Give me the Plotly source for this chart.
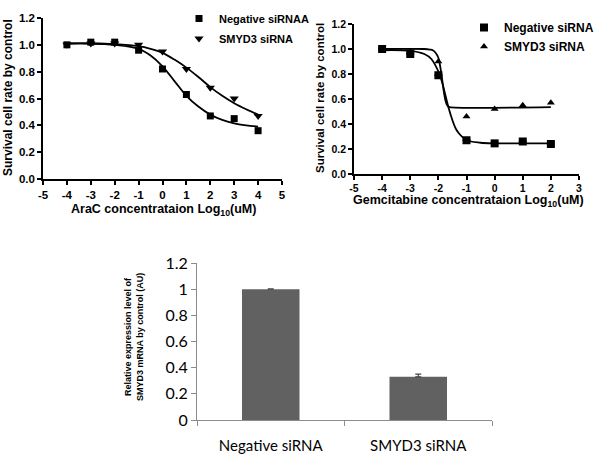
import plotly.graph_objects as go

# ---- Panel 1: AraC ----
ara_x = [-4, -3, -2, -1, 0, 1, 2, 3, 4]
ara_neg = [1.00, 1.02, 1.02, 0.96, 0.82, 0.63, 0.47, 0.45, 0.36]
ara_smyd3 = [1.00, 1.01, 1.01, 1.00, 0.95, 0.82, 0.68, 0.60, 0.47]
ara_fit_x = [-4, -3, -2, -1, -0.5, 0, 0.5, 1, 1.5, 2, 2.5, 3, 3.5, 4]
ara_fit_neg = [1.01, 1.01, 1.00, 0.97, 0.92, 0.84, 0.73, 0.62, 0.54, 0.48, 0.44, 0.415, 0.40, 0.39]
ara_fit_smyd3 = [1.01, 1.01, 1.005, 0.99, 0.97, 0.94, 0.89, 0.83, 0.76, 0.685, 0.62, 0.565, 0.52, 0.48]
ara_xticks = [-5, -4, -3, -2, -1, 0, 1, 2, 3, 4, 5]
ara_xticktext = ["-5", "-4", "-3", "-2", "-1", "0", "1", "2", "3", "4", "5"]

# ---- Panel 2: Gemcitabine ----
gem_x = [-4, -3, -2, -1, 0, 1, 2]
gem_neg = [1.00, 0.96, 0.79, 0.27, 0.245, 0.26, 0.24]
gem_neg_err = [0.0, 0.03, 0.0, 0.0, 0.0, 0.0, 0.0]
gem_smyd3 = [1.00, 0.98, 0.90, 0.46, 0.52, 0.55, 0.57]
gem_fit_neg_x = [-4, -3, -2.5, -2.25, -2, -1.875, -1.75, -1.625, -1.5, -1.375, -1.25, -1, -0.5, 0, 1, 2]
gem_fit_neg = [0.99, 0.985, 0.96, 0.92, 0.82, 0.74, 0.63, 0.52, 0.43, 0.36, 0.32, 0.27, 0.25, 0.245, 0.245, 0.245]
gem_fit_smyd3_x = [-4, -2.5, -2.3, -2.2, -2.1, -2.0, -1.95, -1.9, -1.85, -1.8, -1.75, -1.7, -1.65, -1.6, 2]
gem_fit_smyd3 = [1.0, 1.0, 0.995, 0.99, 0.97, 0.93, 0.88, 0.81, 0.73, 0.65, 0.59, 0.555, 0.54, 0.535, 0.535]
gem_xticks = [-5, -4, -3, -2, -1, 0, 1, 2, 3]
gem_xticktext = ["-5", "-4", "-3", "-2", "-1", "0", "1", "2", "3"]

# ---- Panel 3: bars ----
bar_cats = ["Negative siRNA", "SMYD3 siRNA"]
bar_vals = [1.00, 0.33]
bar_err = [0.003, 0.02]
bar_tickvals = [0, 0.2, 0.4, 0.6, 0.8, 1.0, 1.2]
bar_ticktext = ["0", "0.2", "0.4", "0.6", "0.8", "1", "1.2"]

BOLD = dict(family="Liberation Sans", color="black", weight="bold")

def PX(px):
    return px / 600
def PY(py):
    return 1 - py / 459

fig = go.Figure()

# Panel 1
fig.add_trace(go.Scatter(x=ara_fit_x, y=ara_fit_neg, mode="lines", line=dict(color="black", width=1.8, shape="spline"),
                         showlegend=False, xaxis="x", yaxis="y", hoverinfo="skip"))
fig.add_trace(go.Scatter(x=ara_fit_x, y=ara_fit_smyd3, mode="lines", line=dict(color="black", width=1.8, shape="spline"),
                         showlegend=False, xaxis="x", yaxis="y", hoverinfo="skip"))
fig.add_trace(go.Scatter(x=ara_x, y=ara_smyd3, mode="markers", name="SMYD3 siRNA", legendgroup="a2",
                         marker=dict(symbol="triangle-down", size=8, color="black"), xaxis="x", yaxis="y", legend="legend", legendrank=2))
fig.add_trace(go.Scatter(x=ara_x, y=ara_neg, mode="markers", name="Negative siRNA", legendgroup="a1",
                         marker=dict(symbol="square", size=7, color="black"), xaxis="x", yaxis="y", legend="legend", legendrank=1))

# Panel 2
fig.add_trace(go.Scatter(x=gem_fit_neg_x, y=gem_fit_neg, mode="lines", line=dict(color="black", width=1.8, shape="spline"),
                         showlegend=False, xaxis="x2", yaxis="y2", hoverinfo="skip"))
fig.add_trace(go.Scatter(x=gem_fit_smyd3_x, y=gem_fit_smyd3, mode="lines", line=dict(color="black", width=1.8, shape="spline"),
                         showlegend=False, xaxis="x2", yaxis="y2", hoverinfo="skip"))
fig.add_trace(go.Scatter(x=gem_x, y=gem_neg, mode="markers", name="Negative siRNA",
                         marker=dict(symbol="square", size=8, color="black"),
                         error_y=dict(type="data", array=gem_neg_err, arrayminus=[0]*len(gem_neg_err), color="black", thickness=1.5, width=4),
                         xaxis="x2", yaxis="y2", legend="legend2", legendrank=1))
fig.add_trace(go.Scatter(x=gem_x, y=gem_smyd3, mode="markers", name="SMYD3 siRNA",
                         marker=dict(symbol="triangle-up", size=7, color="black"), xaxis="x2", yaxis="y2", legend="legend2", legendrank=2))

# Panel 3
fig.add_trace(go.Bar(x=bar_cats, y=bar_vals, marker=dict(color="#616161", line=dict(width=0)),
                     error_y=dict(type="data", array=bar_err, arrayminus=[0, 0], color="#444444", thickness=1.2, width=3),
                     showlegend=False, xaxis="x3", yaxis="y3", width=0.39))

axis_common = dict(showgrid=False, zeroline=False, showline=True, linecolor="black", linewidth=1.6,
                   ticks="outside", ticklen=4, tickwidth=1.6, tickcolor="black", automargin=False)

fig.update_layout(
    template="none",
    width=600, height=459, margin=dict(l=0, r=0, t=0, b=0, autoexpand=False),
    paper_bgcolor="white", plot_bgcolor="white",
    xaxis=dict(domain=[PX(43), PX(282)], range=[-5, 5], tickmode="array", tickvals=ara_xticks, ticktext=ara_xticktext,
               anchor="y", tickfont=dict(size=11.5, **BOLD), **axis_common),
    yaxis=dict(domain=[PY(179), PY(18)], range=[0, 1.2], dtick=0.2, tickformat=".1f", anchor="x",
               tickfont=dict(size=11.5, **BOLD), **axis_common),
    xaxis2=dict(domain=[PX(354), PX(579)], range=[-5, 3], tickmode="array", tickvals=gem_xticks, ticktext=gem_xticktext,
                anchor="y2", tickfont=dict(size=10.5, **BOLD), **axis_common),
    yaxis2=dict(domain=[PY(174), PY(24)], range=[0, 1.2], dtick=0.2, tickformat=".1f", anchor="x2",
                tickfont=dict(size=10.5, **BOLD), **axis_common),
    xaxis3=dict(domain=[PX(197), PX(492)], anchor="y3", showgrid=False, showline=True, linecolor="#8c8c8c", linewidth=1,
                ticks="outside", tickson="boundaries", ticklen=5, tickcolor="#8c8c8c", automargin=False,
                tickfont=dict(family="Lato", size=15, color="black"), ticklabelstandoff=12),
    yaxis3=dict(domain=[PY(420), PY(263)], range=[0, 1.2], anchor="x3", showgrid=False, zeroline=False,
                showline=True, linecolor="#8c8c8c", linewidth=1, ticks="outside", ticklen=5, tickcolor="#8c8c8c",
                tickmode="array", tickvals=bar_tickvals, ticktext=bar_ticktext, automargin=False,
                tickfont=dict(family="Lato", size=16, color="black")),
    legend=dict(x=PX(179), y=PY(4), xanchor="left", yanchor="top", bgcolor="rgba(0,0,0,0)",
                font=dict(size=11, **BOLD), itemwidth=30, tracegroupgap=1, traceorder="grouped"),
    legend2=dict(x=PX(464), y=PY(13), xanchor="left", yanchor="top", bgcolor="rgba(0,0,0,0)",
                 font=dict(size=12, **BOLD), itemwidth=30, tracegroupgap=0, traceorder="normal"),
    annotations=[
        dict(text="AraC concentrataion Log<sub>10</sub>(uM)", x=PX(163), y=PY(210), xref="paper", yref="paper",
             showarrow=False, font=dict(size=12.5, **BOLD), xanchor="center", yanchor="middle"),
        dict(text="Survival cell rate by control", x=PX(8), y=PY(98), xref="paper", yref="paper", textangle=-90,
             showarrow=False, font=dict(size=12, **BOLD), xanchor="center", yanchor="middle"),
        dict(text="Gemcitabine concentrataion Log<sub>10</sub>(uM)", x=PX(468), y=PY(201), xref="paper", yref="paper",
             showarrow=False, font=dict(size=12.5, **BOLD), xanchor="center", yanchor="middle"),
        dict(text="Survival cell rate by control", x=PX(320), y=PY(98), xref="paper", yref="paper", textangle=-90,
             showarrow=False, font=dict(size=11.5, **BOLD), xanchor="center", yanchor="middle"),
        dict(text="Relative expression level of<br>SMYD3 mRNA by control (AU)", x=PX(134), y=PY(337), xref="paper",
             yref="paper", textangle=-90, showarrow=False, font=dict(size=9, **BOLD), xanchor="center", yanchor="middle"),
        dict(text="A", x=PX(299), y=PY(19), xref="paper", yref="paper", showarrow=False,
             font=dict(size=11, **BOLD), xanchor="left", yanchor="middle"),
    ],
)

fig.write_html("out.html", config={"displayModeBar": False}, post_script="document.body.style.margin='0';")
